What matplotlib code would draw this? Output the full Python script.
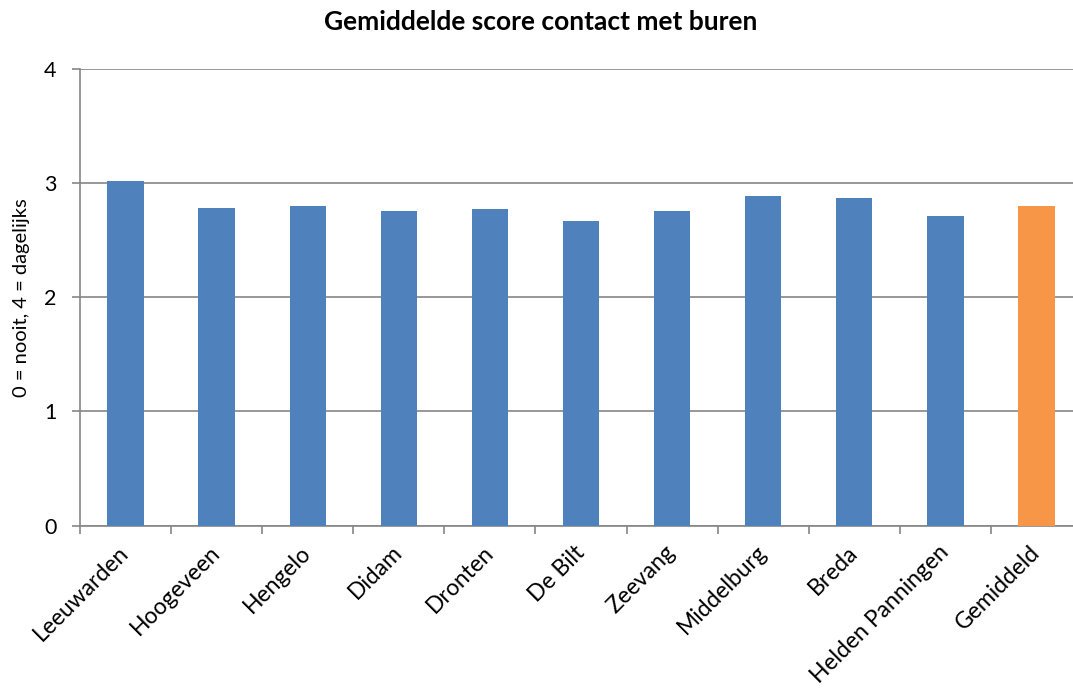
import matplotlib.pyplot as plt

plt.rcParams['font.family'] = ['Lato', 'DejaVu Sans']

plaatsen = ['Leeuwarden', 'Hoogeveen', 'Hengelo', 'Didam', 'Dronten', 'De Bilt',
            'Zeevang', 'Middelburg', 'Breda', 'Helden Panningen', 'Gemiddeld']
scores = [3.02, 2.78, 2.80, 2.76, 2.77, 2.67, 2.76, 2.89, 2.87, 2.71, 2.80]

kleuren = ['#4F81BD'] * (len(plaatsen) - 1) + ['#F79646']

fig = plt.figure(figsize=(10.73, 6.93), dpi=100)
# plot area runs slightly past the right edge of the figure
ax = fig.add_axes([80 / 1073, (693 - 525.5) / 693, 1002 / 1073, (525.5 - 69) / 693])

x = range(len(plaatsen))
ax.bar(x, scores, width=0.4, color=kleuren, zorder=3)

ax.set_xlim(-0.5, len(plaatsen) - 0.5)
ax.set_ylim(0, 4)
ax.set_yticks([0, 1, 2, 3, 4])
ax.yaxis.grid(True, color='#868686', linewidth=1.2, zorder=0)

ax.set_xticks([i + 0.5 for i in range(-1, len(plaatsen))])
ax.set_xticklabels([])
ax.set_xticks(list(x), minor=True)
ax.set_xticklabels(plaatsen, minor=True, rotation=45, ha='right', va='center',
                   rotation_mode='anchor', fontsize=16.5)
ax.tick_params(axis='x', which='minor', length=0, pad=17)
ax.tick_params(axis='x', which='major', length=6, width=1.2, color='#868686')
ax.tick_params(axis='y', length=6, width=1.2, color='#868686', labelsize=15.5, pad=11)

for s in ['top', 'right']:
    ax.spines[s].set_visible(False)
for s in ['left', 'bottom']:
    ax.spines[s].set_color('#868686')
    ax.spines[s].set_linewidth(1.2)

ax.set_ylabel('0 = nooit, 4 = dagelijks', fontsize=14.5, labelpad=10)
fig.text(541 / 1073, 1 - 22 / 693, 'Gemiddelde score contact met buren',
         ha='center', va='center', fontsize=19, fontweight='bold')

fig.savefig('out.png', dpi=100)
